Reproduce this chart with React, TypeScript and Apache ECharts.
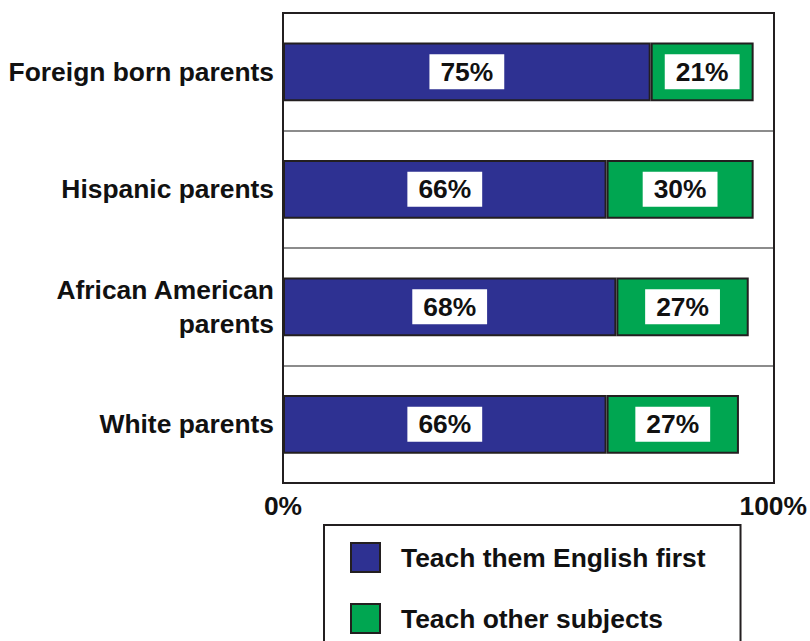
import React, { useEffect, useRef } from "react";
import * as echarts from "echarts";

const categories = [
  "Foreign born parents",
  "Hispanic parents",
  "African American\nparents",
  "White parents",
];
const englishFirst = [75, 66, 68, 66];
const otherSubjects = [21, 30, 27, 27];
const seriesNames = ["Teach them English first", "Teach other subjects"];

const FONT = "'Liberation Sans', Arial, Helvetica, sans-serif";
const FS = 26.4;
const W = 810;
const H = 641;
const GRID = { left: 283, top: 13, right: 36, bottom: 158 };

export default function App() {
  const ref = useRef<HTMLDivElement>(null);
  useEffect(() => {
    document.body.style.margin = "0";
    const chart = echarts.init(ref.current!, null, { renderer: "svg" });
    const label = {
      show: true,
      position: "inside",
      formatter: "{c}%",
      color: "#111",
      fontFamily: FONT,
      fontWeight: "bold",
      fontSize: FS,
      lineHeight: 27,
      backgroundColor: "#fff",
      padding: [4, 11],
    };
    const gw = W - GRID.left - GRID.right;
    const gh = H - GRID.top - GRID.bottom;
    chart.setOption({
      animation: false,
      backgroundColor: "#fff",
      grid: { ...GRID, containLabel: false },
      xAxis: {
        type: "value",
        min: 0,
        max: 100,
        interval: 100,
        axisLine: { show: false },
        axisTick: { show: false },
        splitLine: { show: false },
        axisLabel: {
          formatter: "{value}%",
          color: "#111",
          fontFamily: FONT,
          fontWeight: "bold",
          fontSize: FS,
          margin: 10,
        },
      },
      yAxis: {
        type: "category",
        data: categories,
        inverse: true,
        axisLine: { show: false },
        axisTick: { show: false },
        splitLine: { show: true, lineStyle: { color: "#666", width: 1.5 } },
        axisLabel: {
          color: "#111",
          fontFamily: FONT,
          fontWeight: "bold",
          fontSize: FS,
          lineHeight: 34,
          margin: 9,
        },
      },
      legend: {
        orient: "vertical",
        left: 324,
        top: 525,
        height: 200,
        padding: [17, 35, 20, 26],
        borderColor: "#231F20",
        borderWidth: 2,
        icon: "rect",
        itemWidth: 29,
        itemHeight: 29,
        itemGap: 30,
        data: seriesNames,
        textStyle: {
          color: "#111",
          fontFamily: FONT,
          fontWeight: "bold",
          fontSize: FS,
          padding: [0, 0, 0, 16],
        },
      },
      series: [
        {
          name: seriesNames[0],
          type: "bar",
          stack: "total",
          barWidth: "50%",
          data: englishFirst,
          itemStyle: { color: "#2E3192", borderColor: "#231F20", borderWidth: 2 },
          label,
        },
        {
          name: seriesNames[1],
          type: "bar",
          stack: "total",
          barWidth: "50%",
          data: otherSubjects,
          itemStyle: { color: "#00A651", borderColor: "#231F20", borderWidth: 2 },
          label,
        },
      ],
      graphic: [
        {
          type: "rect",
          z: 100,
          shape: { x: GRID.left, y: GRID.top, width: gw, height: gh },
          style: { fill: "none", stroke: "#231F20", lineWidth: 2 },
        },
      ],
    });
    return () => chart.dispose();
  }, []);
  return <div ref={ref} style={{ width: W, height: H }} />;
}
